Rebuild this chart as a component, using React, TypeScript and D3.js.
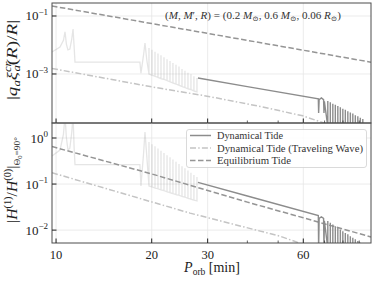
import React from "react";
import { scaleLog, line } from "d3";

type Pt = [number, number];

const W = 374;
const H = 281;

const periodDomain = [9.71, 98];
const xMajor = [10, 20, 30, 60];
const xMinor = [40, 50, 70, 80, 90];

// upper panel: |q_a xi_a(R)/R|
const topDomain = [2.04e-5, 0.2805];
const topTicks = [1e-1, 1e-3];
const topTickExp = ["−1", "−3"];
const topEq: Pt[] = [[9.71, 0.221], [20, 0.0548], [40, 0.0144], [60, 0.0066], [98, 0.00255]];
const topTW: Pt[] = [[9.71, 1.55e-3], [20, 3.6e-4], [30.5, 1.65e-4], [43.9, 7.6e-5], [59.8, 3.6e-5], [70, 2.0e-5], [80, 1.0e-5]];
const topDynLight: Pt[] = [
  [9.71, 5.75e-3], [10.29, 8.5e-3], [10.55, 0.0145], [10.67, 0.0282], [10.78, 0.0105], [10.9, 6.8e-3],
  [11.05, 7.2e-3], [11.2, 0.0155], [11.31, 0.0355], [11.4, 8.5e-3], [11.47, 2.57e-3], [18.36, 2.57e-3],
  [18.5, 1.07e-3], [18.85, 4.5e-3], [19.05, 0.0117], [19.3, 3.04e-3],
];
const topDynDark: Pt[] = [
  [27.96, 7.3e-4], [40, 3.65e-4], [66.9, 1.4e-4], [67.05, 4.5e-5], [67.3, 1.3e-4], [68.4, 1.5e-4],
  [69.5, 1.3e-4], [69.7, 4.5e-5], [69.9, 1.15e-4],
];

// lower panel: |H(1)/H(0)|
const botDomain = [5.25e-3, 2.118];
const botTicks = [1, 1e-1, 1e-2];
const botTickExp = ["0", "−1", "−2"];
const botEq: Pt[] = [[9.71, 0.653], [20, 0.166], [40, 0.0405], [60, 0.0185], [98, 0.0071]];
const botTW: Pt[] = [[9.71, 0.176], [26.4, 0.0234], [50.6, 0.0074], [56.8, 0.0056], [65, 0.0038]];
const botDynLight: Pt[] = [
  [9.71, 0.406], [10.29, 0.548], [10.55, 1.2], [10.67, 3.0], [10.78, 1.0], [10.9, 0.55],
  [11.05, 0.6], [11.2, 1.3], [11.31, 3.0], [11.4, 0.6], [11.47, 0.265], [18.36, 0.265],
  [18.5, 0.0905], [18.85, 0.45], [19.05, 1.35], [19.3, 0.4],
];
const botDynDark: Pt[] = [
  [27.96, 0.109], [40, 0.0551], [66.9, 0.0208], [67.05, 4.0e-3], [67.3, 0.018], [68.4, 0.0195],
  [69.5, 0.018], [69.7, 4.0e-3], [69.9, 0.016],
];

// resonance forest, 19-28 min
const spikeP = [19.61, 20.04, 20.48, 20.93, 21.39, 21.86, 22.35, 22.84, 23.33, 23.85, 24.37, 24.91, 25.45, 26.01, 26.58, 27.16, 27.76];
const spikeTopHi = [7.9e-3, 6.8e-3, 5.9e-3, 5.1e-3, 4.4e-3, 3.8e-3, 3.2e-3, 2.8e-3, 2.4e-3, 2.1e-3, 1.8e-3, 1.5e-3, 1.3e-3, 1.1e-3, 9.8e-4, 8.4e-4, 7.2e-4];
const spikeTopLo = [1.0e-3, 9.1e-4, 8.3e-4, 7.6e-4, 6.9e-4, 6.5e-4, 5.9e-4, 5.4e-4, 4.9e-4, 4.5e-4, 4.1e-4, 3.7e-4, 3.4e-4, 3.1e-4, 2.9e-4, 2.6e-4, 2.4e-4];
const spikeBotHi = [0.82, 0.73, 0.66, 0.59, 0.53, 0.47, 0.42, 0.38, 0.34, 0.305, 0.274, 0.245, 0.22, 0.197, 0.177, 0.158, 0.142];
const spikeBotLo = [0.091, 0.087, 0.082, 0.079, 0.075, 0.072, 0.068, 0.065, 0.062, 0.059, 0.057, 0.054, 0.052, 0.049, 0.047, 0.045, 0.043];

// resonance forest, 71-93 min
const fineP = [71.66, 72.97, 74.31, 75.67, 77.06, 78.47, 79.9, 81.36, 82.85, 84.37, 85.9, 87.47, 89.07, 90.69, 92.35];
const fineTopHi = [1.17e-4, 1.07e-4, 9.5e-5, 8.7e-5, 7.8e-5, 7.1e-5, 6.3e-5, 5.8e-5, 5.2e-5, 4.7e-5, 4.3e-5, 3.8e-5, 3.5e-5, 3.1e-5, 2.8e-5];
const fineBotHi = [0.0157, 0.0145, 0.0133, 0.0122, 0.0112, 0.0103, 0.0095, 0.0087, 0.0081, 0.0074, 0.0068, 0.0063, 0.0058, 0.0053, 0.0049];
const fineTopFloor = 1.5e-5;
const fineBotFloor = 4.0e-3;

const legendItems = [
  { label: "Dynamical Tide", color: "#8c8c8c", dash: "", len: 66 },
  { label: "Dynamical Tide (Traveling Wave)", color: "#c4c4c4", dash: "6 2.2 1.5 2.2", len: 146 },
  { label: "Equilibrium Tide", color: "#959595", dash: "5.5 2.5", len: 74 },
];

const FONT = "'Liberation Serif', 'DejaVu Serif', serif";
const LEFT = 52;
const RIGHT = 371;

const spikes = (P: number[], hi: number[], lo: number[] | number): Pt[] =>
  P.flatMap((p, i) => {
    const l = Array.isArray(lo) ? lo[i] : lo;
    return [[p, l], [p, hi[i]], [p, l]] as Pt[];
  });

function Panel({ id, x, y, top, bottom, ticks, exps, eq, tw, light, dark }: any) {
  const path = line<Pt>().x((d) => x(d[0])).y((d) => y(d[1]));
  return (
    <g>
      <defs>
        <clipPath id={id}>
          <rect x={LEFT} y={top} width={RIGHT - LEFT} height={bottom - top} />
        </clipPath>
      </defs>
      {xMajor.map((t) => (
        <line key={"gx" + t} x1={x(t)} x2={x(t)} y1={top} y2={bottom} stroke="#e6e6e6" strokeWidth={0.8} />
      ))}
      {ticks.map((t: number) => (
        <line key={"gy" + t} x1={LEFT} x2={RIGHT} y1={y(t)} y2={y(t)} stroke="#e6e6e6" strokeWidth={0.8} />
      ))}
      <g clipPath={`url(#${id})`} fill="none" strokeWidth={1.5}>
        <path d={path(light) || ""} stroke="#888" strokeOpacity={0.22} strokeWidth={1.3} />
        <path d={path(tw) || ""} stroke="#c4c4c4" strokeDasharray="6 2.2 1.5 2.2" />
        <path d={path(eq) || ""} stroke="#959595" strokeDasharray="5.5 2.5" />
        <path d={path(dark) || ""} stroke="#8c8c8c" strokeWidth={1.4} />
      </g>
      <rect x={LEFT} y={top} width={RIGHT - LEFT} height={bottom - top} fill="none" stroke="#4d4d4d" strokeWidth={1} />
      {xMajor.map((t) => (
        <line key={"tx" + t} x1={x(t)} x2={x(t)} y1={bottom} y2={bottom - 4.5} stroke="#222" strokeWidth={1} />
      ))}
      {xMinor.map((t) => (
        <line key={"mx" + t} x1={x(t)} x2={x(t)} y1={bottom} y2={bottom - 2.5} stroke="#222" strokeWidth={0.7} />
      ))}
      {ticks.map((t: number, i: number) => (
        <g key={"ty" + t}>
          <line x1={LEFT} x2={LEFT + 4.5} y1={y(t)} y2={y(t)} stroke="#222" strokeWidth={1} />
          <text x={48} y={y(t) + 4.5} textAnchor="end" fontSize={13} fill="#222">
            10<tspan dy={-5.5} fontSize={9}>{exps[i]}</tspan>
          </text>
        </g>
      ))}
    </g>
  );
}

export default function App() {
  const x = scaleLog().domain(periodDomain).range([LEFT, RIGHT]);
  const yTop = scaleLog().domain(topDomain).range([123, 3]);
  const yBot = scaleLog().domain(botDomain).range([243, 123]);

  const topLight = [...topDynLight, ...spikes(spikeP, spikeTopHi, spikeTopLo)];
  const topDark = [...topDynDark, ...spikes(fineP, fineTopHi, fineTopFloor)];
  const botLight = [...botDynLight, ...spikes(spikeP, spikeBotHi, spikeBotLo)];
  const botDark = [...botDynDark, ...spikes(fineP, fineBotHi, fineBotFloor)];

  return (
    <svg width={W} height={H} style={{ position: "absolute", left: 0, top: 0, background: "#fff" }} fontFamily={FONT}>
      <Panel id="clipTop" x={x} y={yTop} top={3} bottom={123} ticks={topTicks} exps={topTickExp}
        eq={topEq} tw={topTW} light={topLight} dark={topDark} />
      <Panel id="clipBot" x={x} y={yBot} top={123} bottom={243} ticks={botTicks} exps={botTickExp}
        eq={botEq} tw={botTW} light={botLight} dark={botDark} />

      {xMajor.map((t) => (
        <text key={"lx" + t} x={x(t)} y={259} textAnchor="middle" fontSize={12.5} fill="#222">{t}</text>
      ))}

      {/* annotation */}
      <text x={165} y={18.5} fontSize={10} fill="#333" textLength={176} lengthAdjust="spacingAndGlyphs">
        (<tspan fontStyle="italic">M</tspan>, <tspan fontStyle="italic">M</tspan>′, <tspan fontStyle="italic">R</tspan>) = (0.2 <tspan fontStyle="italic">M</tspan><tspan fontSize={7} dy={2}>⊙</tspan><tspan dy={-2}>, 0.6 </tspan><tspan fontStyle="italic">M</tspan><tspan fontSize={7} dy={2}>⊙</tspan><tspan dy={-2}>, 0.06 </tspan><tspan fontStyle="italic">R</tspan><tspan fontSize={7} dy={2}>⊙</tspan><tspan dy={-2}>)</tspan>
      </text>

      {/* legend */}
      <rect x={186.5} y={129.5} width={180} height={38} rx={2.5} fill="#fff" fillOpacity={0.85} stroke="#d0d0d0" strokeWidth={0.8} />
      {legendItems.map((d, i) => (
        <g key={d.label}>
          <line x1={190} x2={211} y1={135.5 + i * 12.5} y2={135.5 + i * 12.5} stroke={d.color} strokeWidth={1.5} strokeDasharray={d.dash} />
          <text x={217} y={139 + i * 12.5} fontSize={10} fill="#333" textLength={d.len} lengthAdjust="spacingAndGlyphs">{d.label}</text>
        </g>
      ))}

      {/* axis titles */}
      <text transform="translate(17,60) rotate(-90)" textAnchor="middle" fontSize={15} fill="#222"
        textLength={80} lengthAdjust="spacingAndGlyphs">
        |<tspan fontStyle="italic">q</tspan><tspan fontSize={10} fontStyle="italic" dy={3}>a</tspan><tspan fontStyle="italic" dy={-3}>ξ</tspan><tspan fontSize={10} fontStyle="italic" dy={-6}>cr</tspan><tspan fontSize={10} fontStyle="italic" dx={-8} dy={9}>a</tspan><tspan dy={-3}>(</tspan><tspan fontStyle="italic">R</tspan>)/<tspan fontStyle="italic">R</tspan>|
      </text>
      <text transform="translate(17,180) rotate(-90)" textAnchor="middle" fontSize={15} fill="#222"
        textLength={86} lengthAdjust="spacingAndGlyphs">
        |<tspan fontStyle="italic">H</tspan><tspan fontSize={10} dy={-6}>(1)</tspan><tspan dy={6}>/</tspan><tspan fontStyle="italic">H</tspan><tspan fontSize={10} dy={-6}>(0)</tspan><tspan dy={6}>|</tspan><tspan fontSize={9} dy={3}>Θ</tspan><tspan fontSize={6.5} dy={1.5}>0</tspan><tspan fontSize={9} dy={-1.5}>=90°</tspan>
      </text>
      <text x={212} y={272} textAnchor="middle" fontSize={14} fill="#222">
        <tspan fontStyle="italic">P</tspan><tspan fontSize={9.5} dy={3}>orb</tspan><tspan dy={-3}> [min]</tspan>
      </text>
    </svg>
  );
}
